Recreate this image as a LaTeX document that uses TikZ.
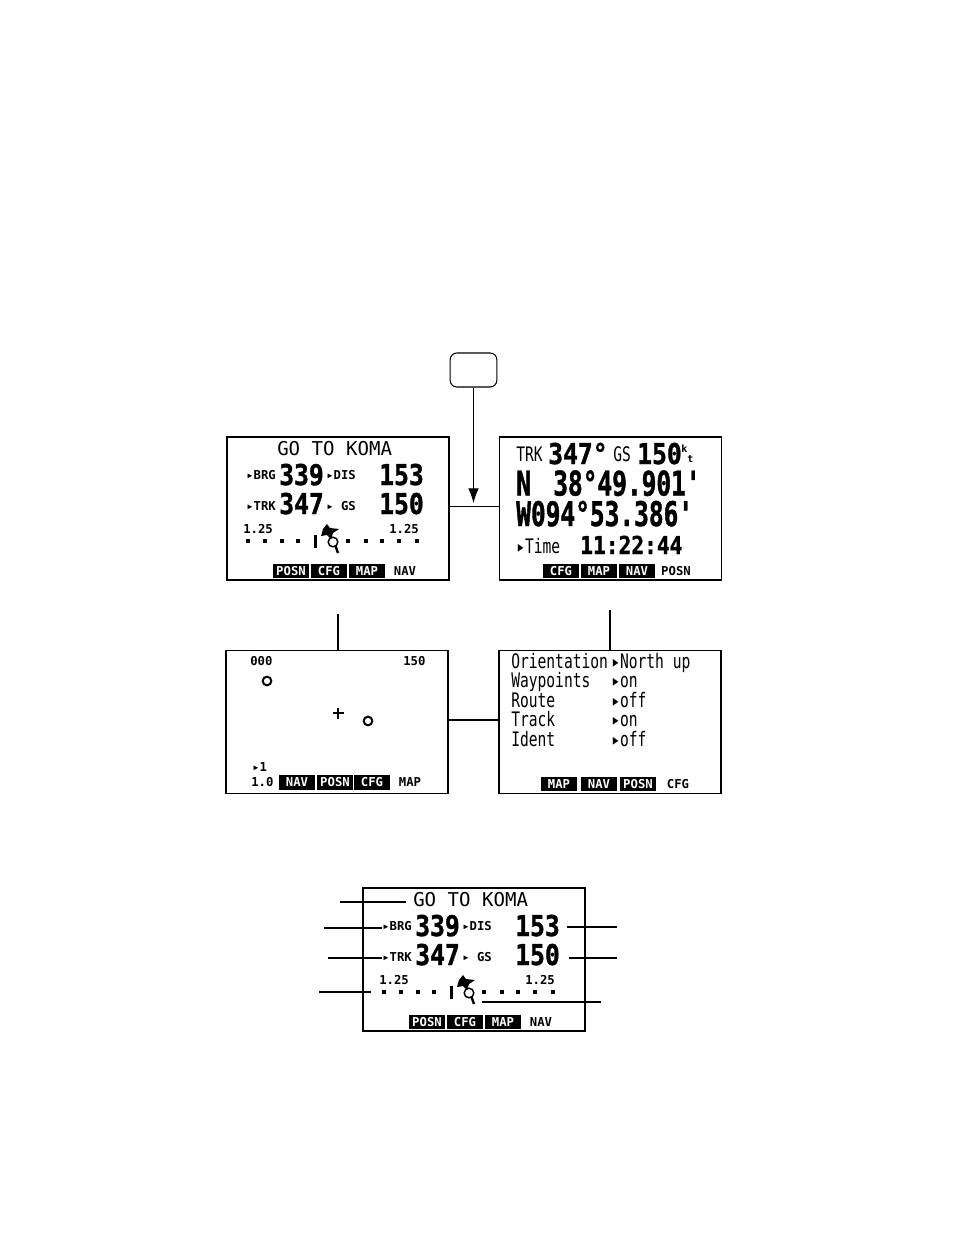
\documentclass[tikz,border=0pt]{standalone}
\usepackage{fontspec}
\usepackage{tikz}
\usetikzlibrary{arrows.meta,calc,positioning}
\newfontfamily\lcdplain{DejaVu Sans Mono}
\newfontfamily\lcdnarrow[FakeStretch=0.73]{DejaVu Sans Mono}
\newfontfamily\lcdwide[FakeStretch=0.86,BoldFeatures={FakeBold=1.2}]{DejaVu Sans Mono}
\newfontfamily\lcdslim[FakeStretch=0.72,BoldFeatures={FakeBold=1.2}]{DejaVu Sans Mono}
\tikzset{%
	screen/.style   = {draw, rectangle, line width=1.1pt, minimum width=166.5pt, minimum height=107.25pt, inner sep=0pt, outer sep=0pt},
	keybtn/.style   = {draw, rectangle, rounded corners=5pt, line width=.8pt, minimum width=35pt, minimum height=25.5pt},
	lcd/.style      = {anchor=base west, inner sep=0pt},
	title/.style    = {lcd, font=\lcdplain\fontsize{14.3pt}{14.3pt}\selectfont},
	thintext/.style = {lcd, font=\lcdnarrow\fontsize{15pt}{15pt}\selectfont},
	label/.style    = {lcd, font=\lcdplain\bfseries\fontsize{9.2pt}{9.2pt}\selectfont},
	value/.style    = {lcd, font=\lcdwide\bfseries\fontsize{21.5pt}{21.5pt}\selectfont},
	clock/.style    = {lcd, font=\lcdwide\bfseries\fontsize{18.5pt}{18.5pt}\selectfont},
	large/.style    = {lcd, font=\lcdslim\bfseries\fontsize{25.5pt}{25.5pt}\selectfont},
	tiny/.style     = {lcd, font=\lcdplain\bfseries\fontsize{7.5pt}{7.5pt}\selectfont},
	tabon/.style    = {fill=black, text=white, minimum width=27pt, minimum height=11pt, inner sep=0pt, font=\lcdplain\bfseries\fontsize{9.2pt}{9.2pt}\selectfont},
	taboff/.style   = {inner sep=0pt, font=\lcdplain\bfseries\fontsize{9.2pt}{9.2pt}\selectfont},
	waypt/.style    = {draw, circle, line width=1.5pt, minimum size=6.5pt, inner sep=0pt},
	lead/.style     = {line width=.8pt},
	leadbold/.style = {line width=1.2pt},
}
% navigation page, drawn twice
\newcommand{\navpage}[3]{%
	\begin{scope}[shift={(#2,#3)}]
	\node [screen] (#1box) at (338,508.5) {};
	\node [title] (#1head) at (277,455.5) {GO TO KOMA};
	\node [label] (#1brg) at (246,479) {▸BRG};
	\node [value] (#1brgv) at (279,485) {339};
	\node [label] (#1dis) at (326,479) {▸DIS};
	\node [value] (#1disv) at (379,485) {153};
	\node [label] (#1trk) at (246,510) {▸TRK};
	\node [value] (#1trkv) at (279,514) {347};
	\node [label] (#1gs) at (326,510) {▸ GS};
	\node [value] (#1gsv) at (379,514) {150};
	\node [label] (#1scl) at (243,533) {1.25};
	\node [label] (#1scr) at (389,533) {1.25};
	\foreach \px in {248,265,282,298,348,366,382,399,417}
		\fill (\px-1.7,539.3) rectangle (\px+1.7,542.7);
	\fill (313.7,535) rectangle (317.3,548);
	\fill (327,524) -- (330,528) -- (339,529) -- (333,533) -- (331,539) -- (327,535) -- (321,536) -- (323,529) -- cycle;
	\draw [line width=1.1pt] (333,542) circle [radius=3.6pt];
	\draw [line width=1.8pt] (335.5,546) -- (338,553);
	\node [tabon] (#1tposn) at (291,571) {POSN};
	\node [tabon] (#1tcfg) at (329,571) {CFG};
	\node [tabon] (#1tmap) at (367,571) {MAP};
	\node [taboff] (#1tnav) at (405,571) {NAV};
	\end{scope}%
}

\begin{document}
\begin{tikzpicture}[x=.75pt,y=-.75pt,>={Latex[length=11pt,width=8pt]}]
	\useasboundingbox (0,0) rectangle (954,1235);
	\node [keybtn] (key) at (473.5,370) {};
	
	% top left
	\navpage{nav}{0}{0}
	
	% top right
	\node [screen] (posn) at (610.5,508.5) {};
	\node [thintext] (trk) at (516,461) {TRK};
	\node [value] (trkv) at (548,464) {347°};
	\node [thintext] (gs) at (613,461) {GS};
	\node [value] (gsv) at (637,464) {150};
	\node [tiny] (knot) at (681,452) {k};
	\node [tiny] (tru) at (687,462) {t};
	\node [large] (lat) at (516,495.5) {N};
	\node [large] (latv) at (553,495.5) {38°49.901'};
	\node [large] (lon) at (516,526) {W094°53.386'};
	\node [thintext] (tim) at (516,553) {▸Time};
	\node [clock] (timv) at (580,554) {11:22:44};
	\node [tabon] (ptcfg) at (561,571) {CFG};
	\node [tabon] (ptmap) at (599,571) {MAP};
	\node [tabon] (ptnav) at (637,571) {NAV};
	\node [taboff] (ptposn) at (676,571) {POSN};
	
	% bottom left
	\node [screen] (map) at (337,722) {};
	\node [label] (mbrg) at (250,665) {000};
	\node [label] (mtrk) at (403,665) {150};
	\node [waypt] (wptA) at (267,681) {};
	\node [waypt] (wptB) at (368,721) {};
	\draw [line width=1.6pt] (333,713) -- (343.5,713) (338,707.5) -- (338,718.5);
	\node [label] (mwpt) at (252,771) {▸1};
	\node [label] (mscl) at (251,786) {1.0};
	\node [tabon] (mtnav) at (297,782.5) {NAV};
	\node [tabon] (mtposn) at (335,782.5) {POSN};
	\node [tabon] (mtcfg) at (372,782.5) {CFG};
	\node [taboff] (mtmap) at (410,782.5) {MAP};
	
	% bottom right
	\node [screen] (cfg) at (610,722) {};
	\node [thintext] (oA) at (511,668) {Orientation};
	\node [thintext] (oB) at (511,687) {Waypoints};
	\node [thintext] (oC) at (511,707) {Route};
	\node [thintext] (oD) at (511,726) {Track};
	\node [thintext] (oE) at (511,746) {Ident};
	\node [thintext] (vA) at (611,668) {▸North up};
	\node [thintext] (vB) at (611,687) {▸on};
	\node [thintext] (vC) at (611,707) {▸off};
	\node [thintext] (vD) at (611,726) {▸on};
	\node [thintext] (vE) at (611,746) {▸off};
	\node [tabon] (ctmap) at (559,784) {MAP};
	\node [tabon] (ctnav) at (599,784) {NAV};
	\node [tabon] (ctposn) at (638,784) {POSN};
	\node [taboff] (ctcfg) at (678,784) {CFG};
	
	% detail
	\navpage{det}{136}{451}
	
	\coordinate (joinTop) at (473.5,506.5);
	\coordinate (arrowEnd) at (473.5,503);
	\coordinate (joinLow) at (473.5,720);
	\coordinate (mapFree) at (338,614);
	\coordinate (cfgFree) at (610,610);
	\coordinate (headFree) at (340,902);
	\coordinate (headEnd) at (406,902);
	\coordinate (brgFree) at (324,928);
	\coordinate (trkFree) at (328,958);
	\coordinate (sclFree) at (319,992);
	\coordinate (sclEnd) at (371,992);
	\coordinate (cdiFree) at (601,1002);
	\coordinate (cdiEnd) at (482,1002);
	\coordinate (disFree) at (617,927);
	\coordinate (disEnd) at (567,927);
	\coordinate (gsFree) at (617,958);
	\coordinate (gsEnd) at (569,958);
	
	\draw[->,lead] (key) -- (arrowEnd);
	\draw[lead] (navbox.east |- joinTop) -- (posn.west |- joinTop);
	\draw[lead] (map.east |- joinLow) -- (cfg.west |- joinLow);
	\draw[lead] (mapFree) -- (map.north -| mapFree);
	\draw[leadbold] (cfgFree) -- (cfg.north);
	\draw[leadbold] (headFree) -- (headEnd);
	\draw[leadbold] (brgFree) -- (detbrg.west |- brgFree);
	\draw[lead] (trkFree) -- (dettrk.west |- trkFree);
	\draw[lead] (sclFree) -- (sclEnd);
	\draw[leadbold] (cdiEnd) -- (cdiFree);
	\draw[lead] (disFree) -- (disEnd);
	\draw[lead] (gsFree) -- (gsEnd);
\end{tikzpicture}
\end{document}
